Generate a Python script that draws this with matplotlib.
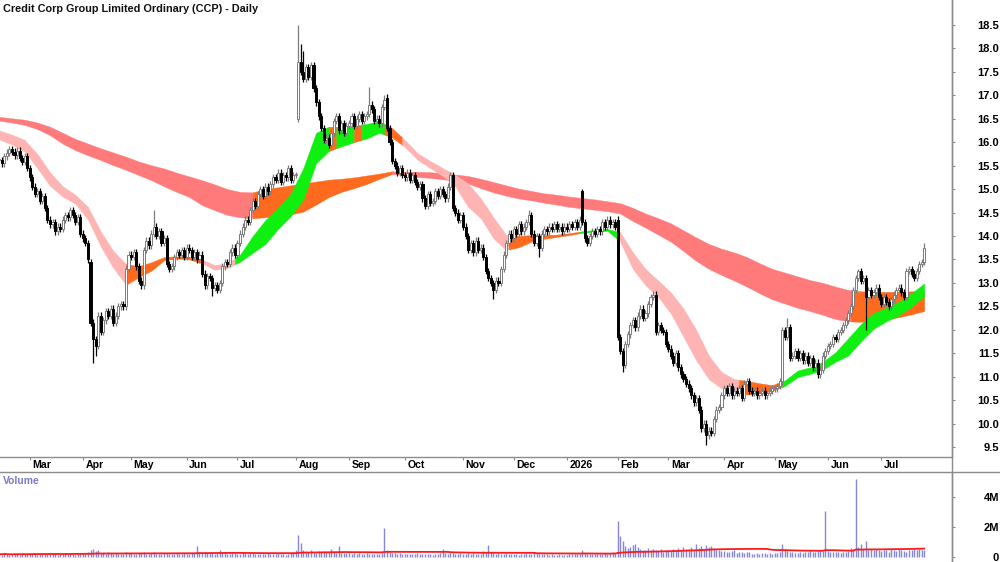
import numpy as np
import pandas as pd
import matplotlib
matplotlib.use("Agg")
import matplotlib.pyplot as plt
from matplotlib import transforms
from matplotlib.lines import Line2D

plt.rcParams['font.family'] = ['Liberation Sans', 'DejaVu Sans']

# ---------------- data ----------------
TITLE = "Credit Corp Group Limited Ordinary (CCP) - Daily"
START, END = "2025-02-13", "2026-07-24"
HOLIDAYS = ["2025-04-18", "2025-04-21", "2025-04-25", "2025-06-09", "2025-12-25",
            "2025-12-26", "2026-01-01", "2026-01-26", "2026-04-03", "2026-04-06",
            "2026-06-08"]

close_feb25 = [15.62, 15.55, 15.70, 15.78, 15.85, 15.80, 15.72, 15.82, 15.66, 15.58, 15.70, 15.45]
close_mar25 = [15.25, 15.05, 14.90, 14.95, 14.75, 14.85, 14.60, 14.35, 14.25, 14.30, 14.10, 14.20,
               14.15, 14.35, 14.45, 14.40, 14.55, 14.45, 14.30, 14.40, 14.05]
close_apr25 = [13.95, 13.85, 13.50, 12.15, 11.80, 11.65, 12.30, 11.95, 12.20, 12.40, 12.30, 12.45,
               12.15, 12.30, 12.50, 12.55, 12.50, 13.30, 13.60]
close_may25 = [13.55, 13.65, 13.35, 13.05, 12.95, 13.70, 13.90, 13.80, 14.05, 14.20, 14.00, 14.10,
               13.85, 13.95, 13.40, 13.30, 13.35, 13.55, 13.65, 13.60, 13.70, 13.55]
close_jun25 = [13.75, 13.70, 13.55, 13.65, 13.50, 13.60, 13.20, 12.95, 13.15, 13.10, 12.90, 12.95,
               12.85, 13.00, 13.35, 13.45, 13.40, 13.65, 13.75, 13.60]
close_jul25 = [13.85, 14.05, 14.20, 14.35, 14.30, 14.55, 14.75, 14.65, 14.90, 15.00, 14.85, 15.05,
               14.95, 15.10, 15.25, 15.20, 15.35, 15.15, 15.30, 15.25, 15.45, 15.20, 15.30]
close_aug25 = [15.30, 17.70, 17.50, 17.35, 17.60, 17.40, 17.65, 17.15, 16.85, 16.55, 16.30, 16.05,
               16.10, 15.95, 16.20, 16.45, 16.55, 16.25, 16.40, 16.20, 16.35]
close_sep25 = [16.40, 16.55, 16.35, 16.50, 16.60, 16.45, 16.55, 16.60, 16.80, 16.70, 16.45, 16.50,
               16.40, 16.75, 16.90, 16.30, 16.00, 15.60, 15.50, 15.35, 15.45, 15.30]
close_oct25 = [15.25, 15.35, 15.20, 15.30, 15.15, 15.05, 15.10, 14.80, 14.65, 14.90, 14.70, 14.75,
               14.95, 14.85, 15.00, 14.90, 14.80, 15.05, 15.30, 14.60, 14.50, 14.35, 14.45]
close_nov25 = [14.20, 14.00, 13.70, 13.85, 13.65, 13.90, 13.70, 13.75, 13.55, 13.25, 13.10, 13.00,
               12.85, 13.05, 13.00, 13.30, 13.60, 13.85, 14.05, 13.95]
close_dec25 = [14.15, 14.05, 14.25, 14.10, 14.20, 14.30, 14.45, 14.05, 13.85, 14.00, 13.75, 14.05,
               14.15, 14.10, 14.20, 14.15, 14.25, 14.15, 14.20, 14.10, 14.20]
close_jan26 = [14.15, 14.25, 14.20, 14.30, 14.20, 14.35, 14.30, 13.95, 13.85, 14.00, 14.10, 14.05,
               14.15, 14.10, 14.30, 14.20, 14.35, 14.25, 14.30, 14.20]
close_feb26 = [11.85, 11.55, 11.25, 11.70, 11.90, 12.10, 12.20, 12.05, 12.30, 12.45, 12.25, 12.35,
               12.55, 12.70, 12.75, 11.95, 12.10, 12.00, 11.95, 11.70]
close_mar26 = [11.60, 11.45, 11.30, 11.50, 11.20, 11.05, 10.95, 10.85, 10.75, 10.60, 10.45, 10.55,
               10.30, 9.90, 10.00, 9.75, 9.85, 9.80, 10.10, 10.30, 10.35, 10.60]
close_apr26 = [10.75, 10.65, 10.80, 10.60, 10.70, 10.65, 10.75, 10.55, 10.85, 10.90, 10.70, 10.65,
               10.70, 10.60, 10.65, 10.70, 10.60, 10.65, 10.70, 10.75]
close_may26 = [10.75, 10.80, 10.90, 12.00, 11.85, 12.05, 11.40, 11.45, 11.55, 11.40, 11.50, 11.35,
               11.45, 11.30, 11.40, 11.20, 11.30, 11.05, 11.15, 11.45, 11.55]
close_jun26 = [11.65, 11.70, 11.85, 11.80, 11.95, 12.00, 12.10, 12.20, 12.35, 12.50, 12.85, 13.10,
               13.25, 13.05, 13.10, 12.70, 12.85, 12.75, 12.80, 12.90, 12.70]
close_jul26 = [12.55, 12.70, 12.60, 12.50, 12.65, 12.75, 12.85, 12.90, 12.80, 12.70, 13.25, 13.30,
               13.20, 13.10, 13.25, 13.40, 13.45, 13.75]

# gap opens and notable wicks (trading-day index -> price)
open_gaps = {118: 16.50, 153: 16.95, 179: 15.30, 230: 14.95, 244: 14.35, 309: 10.90, 36: 13.45}
high_marks = {118: 18.50, 119: 18.10, 120: 17.95, 146: 17.18, 152: 17.00, 230: 15.00,
              61: 14.55, 311: 12.25, 339: 13.30, 365: 13.85, 209: 14.55}
low_marks = {37: 11.30, 38: 11.45, 246: 11.10, 279: 9.55, 342: 12.00, 195: 12.65,
             213: 13.55, 84: 12.72}

vol_feb25 = [0.22, 0.18, 0.25, 0.20, 0.15, 0.19, 0.24, 0.21, 0.17, 0.26, 0.20, 0.23]
vol_mar25 = [0.25, 0.22, 0.30, 0.18, 0.21, 0.27, 0.19, 0.24, 0.20, 0.23, 0.28, 0.17, 0.22, 0.25,
             0.19, 0.21, 0.26, 0.20, 0.18, 0.23, 0.30]
vol_apr25 = [0.28, 0.25, 0.35, 0.48, 0.52, 0.40, 0.45, 0.30, 0.28, 0.25, 0.32, 0.27, 0.22, 0.26,
             0.24, 0.20, 0.25, 0.38, 0.30]
vol_may25 = [0.27, 0.22, 0.25, 0.30, 0.28, 0.33, 0.24, 0.21, 0.26, 0.35, 0.22, 0.20, 0.24, 0.27,
             0.31, 0.23, 0.19, 0.22, 0.26, 0.21, 0.25, 0.28]
vol_jun25 = [0.24, 0.22, 0.27, 0.30, 0.72, 0.33, 0.28, 0.35, 0.30, 0.26, 0.29, 0.24, 0.30, 0.50,
             0.27, 0.33, 0.25, 0.22, 0.28, 0.26]
vol_jul25 = [0.25, 0.22, 0.38, 0.28, 0.24, 0.26, 0.30, 0.22, 0.20, 0.25, 0.23, 0.21, 0.27, 0.24,
             0.19, 0.22, 0.26, 0.20, 0.23, 0.18, 0.24, 0.30, 0.35]
vol_aug25 = [0.45, 1.45, 0.95, 0.50, 0.42, 0.38, 0.45, 0.36, 0.30, 0.42, 0.35, 0.40, 0.38, 0.36,
             0.55, 0.35, 0.30, 0.72, 0.28, 0.30, 0.26]
vol_sep25 = [0.30, 0.25, 0.28, 0.22, 0.26, 0.24, 0.21, 0.27, 0.23, 0.25, 0.20, 0.24, 0.22, 0.26,
             1.95, 0.45, 0.35, 0.30, 0.28, 0.25, 0.27, 0.24]
vol_oct25 = [0.22, 0.25, 0.20, 0.23, 0.19, 0.26, 0.21, 0.24, 0.22, 0.20, 0.25, 0.18, 0.23, 0.21,
             0.26, 0.58, 0.30, 0.22, 0.28, 0.30, 0.25, 0.23, 0.27]
vol_nov25 = [0.25, 0.22, 0.28, 0.24, 0.26, 0.21, 0.23, 0.25, 0.40, 0.30, 0.82, 0.35, 0.28, 0.24,
             0.26, 0.22, 0.25, 0.28, 0.24, 0.21]
vol_dec25 = [0.20, 0.23, 0.18, 0.25, 0.22, 0.28, 0.24, 0.20, 0.35, 0.26, 0.22, 0.19, 0.24, 0.21,
             0.18, 0.20, 0.17, 0.15, 0.19, 0.12, 0.16]
vol_jan26 = [0.18, 0.20, 0.22, 0.19, 0.24, 0.21, 0.45, 0.28, 0.23, 0.20, 0.25, 0.22, 0.19, 0.24,
             0.21, 0.26, 0.23, 0.28, 0.32, 0.30]
vol_feb26 = [2.40, 1.40, 1.10, 0.75, 0.60, 0.65, 0.80, 0.85, 0.70, 0.55, 0.45, 0.50, 0.62, 0.48,
             0.55, 0.45, 0.40, 0.52, 0.38, 0.45]
vol_mar26 = [0.50, 0.42, 0.55, 0.48, 0.60, 0.45, 0.70, 0.52, 0.58, 0.65, 0.50, 0.88, 0.62, 0.75,
             0.55, 0.80, 0.68, 0.72, 0.60, 0.50, 0.45, 0.40]
vol_apr26 = [0.42, 0.38, 0.35, 0.40, 0.45, 0.30, 0.36, 0.33, 0.28, 0.32, 0.38, 0.25, 0.22, 0.28,
             0.24, 0.26, 0.30, 0.23, 0.27, 0.25]
vol_may26 = [0.28, 0.30, 0.35, 0.85, 0.45, 0.40, 0.32, 0.35, 0.30, 0.28, 0.33, 0.30, 0.36, 0.32,
             0.45, 0.38, 0.34, 0.40, 0.50, 0.42, 3.05]
vol_jun26 = [0.40, 0.35, 0.38, 0.32, 0.36, 0.30, 0.34, 0.38, 0.42, 0.60, 0.55, 5.20, 0.70, 0.90,
             0.55, 1.05, 0.50, 0.55, 0.48, 0.52, 0.45]
vol_jul26 = [0.42, 0.50, 0.45, 0.38, 0.55, 0.48, 0.40, 0.52, 0.45, 0.42, 0.38, 0.50, 0.45, 0.55,
             0.48, 0.52, 0.45, 0.50]
VOL_MA = 60

# moving-average ribbons, read every 5 trading days (index 0, 5, ..., 365)
long_top = [16.54, 16.51, 16.48, 16.42, 16.33, 16.20, 16.07, 15.97, 15.87, 15.78, 15.69, 15.59,
            15.51, 15.44, 15.35, 15.27, 15.19, 15.10, 15.00, 14.94, 14.93, 15.00, 15.04, 15.08,
            15.12, 15.16, 15.20, 15.22, 15.25, 15.29, 15.33, 15.38, 15.37, 15.37, 15.36, 15.34,
            15.31, 15.28, 15.22, 15.15, 15.08, 15.01, 14.96, 14.91, 14.88, 14.84, 14.81, 14.78,
            14.74, 14.70, 14.60, 14.48, 14.38, 14.27, 14.12, 13.97, 13.83, 13.73, 13.65, 13.55,
            13.42, 13.30, 13.22, 13.14, 13.06, 13.00, 12.92, 12.85, 12.82, 12.81, 12.81, 12.81,
            12.82, 12.82]
long_bot = [16.46, 16.42, 16.37, 16.28, 16.15, 15.97, 15.83, 15.72, 15.62, 15.51, 15.41, 15.30,
            15.19, 15.06, 14.94, 14.83, 14.66, 14.55, 14.45, 14.40, 14.38, 14.40, 14.43, 14.46,
            14.52, 14.67, 14.83, 14.94, 15.02, 15.11, 15.22, 15.32, 15.30, 15.26, 15.24, 15.21,
            15.17, 15.12, 15.02, 14.93, 14.86, 14.80, 14.76, 14.71, 14.67, 14.62, 14.59, 14.56,
            14.53, 14.48, 14.32, 14.18, 14.03, 13.88, 13.68, 13.47, 13.30, 13.17, 13.05, 12.92,
            12.78, 12.65, 12.56, 12.47, 12.40, 12.32, 12.23, 12.18, 12.17, 12.19, 12.22, 12.27,
            12.33, 12.40]
short_top = [16.25, 16.16, 16.05, 15.75, 15.36, 15.06, 14.88, 14.62, 14.10, 13.68, 13.40, 13.36,
             13.44, 13.55, 13.57, 13.56, 13.50, 13.38, 13.42, 13.60, 14.00, 14.34, 14.60, 14.90,
             15.45, 16.20, 16.33, 16.33, 16.35, 16.39, 16.45, 16.30, 16.05, 15.77, 15.60, 15.45,
             15.30, 15.12, 14.80, 14.40, 14.02, 14.00, 14.02, 14.02, 14.03, 14.06, 14.10, 14.13,
             14.15, 14.08, 13.65, 13.30, 13.05, 12.80, 12.45, 12.00, 11.45, 11.10, 10.95, 10.91,
             10.86, 10.82, 10.92, 11.13, 11.20, 11.32, 11.52, 11.82, 12.12, 12.36, 12.47, 12.60,
             12.78, 12.99]
short_bot = [16.06, 15.95, 15.80, 15.45, 15.07, 14.84, 14.69, 14.35, 13.78, 13.32, 12.96, 13.12,
             13.26, 13.48, 13.52, 13.50, 13.42, 13.28, 13.32, 13.45, 13.64, 13.83, 14.15, 14.42,
             14.78, 15.55, 15.81, 15.91, 16.00, 16.08, 16.20, 16.10, 15.90, 15.63, 15.45, 15.28,
             15.05, 14.62, 14.38, 13.95, 13.70, 13.76, 13.88, 13.94, 13.98, 14.02, 14.07, 14.09,
             14.11, 13.88, 13.30, 12.95, 12.70, 12.35, 11.85, 11.35, 10.95, 10.75, 10.69, 10.62,
             10.64, 10.70, 10.80, 10.99, 11.06, 11.15, 11.32, 11.45, 11.75, 12.02, 12.18, 12.31,
             12.49, 12.72]
# colour state of each ribbon between trading-day breaks
short_breaks = [0, 50, 80, 93, 130, 133, 140, 143, 152, 159, 201, 229, 244, 292, 309, 365]
short_states = "POPGOGOGOPOGPOG"
long_breaks = [0, 100, 155, 336, 365]
long_states = "RORO"

# ---------------- assemble ----------------
closes = np.array(close_feb25 + close_mar25 + close_apr25 + close_may25 + close_jun25 +
                  close_jul25 + close_aug25 + close_sep25 + close_oct25 + close_nov25 +
                  close_dec25 + close_jan26 + close_feb26 + close_mar26 + close_apr26 +
                  close_may26 + close_jun26 + close_jul26)
vols = np.array(vol_feb25 + vol_mar25 + vol_apr25 + vol_may25 + vol_jun25 + vol_jul25 +
                vol_aug25 + vol_sep25 + vol_oct25 + vol_nov25 + vol_dec25 + vol_jan26 +
                vol_feb26 + vol_mar26 + vol_apr26 + vol_may26 + vol_jun26 + vol_jul26)

dates = pd.bdate_range(START, END)
dates = dates[~dates.isin(pd.to_datetime(HOLIDAYS))]
n = min(len(dates), len(closes), len(vols))
dates, closes, vols = dates[:n], closes[:n], vols[:n]
x = np.arange(n)

opens = np.empty(n)
opens[0] = closes[0]
opens[1:] = closes[:-1]
for k, v in open_gaps.items():
    if k < n:
        opens[k] = v
WICK = 0.07
highs = np.maximum(opens, closes) + WICK
lows = np.minimum(opens, closes) - WICK
for k, v in high_marks.items():
    if k < n:
        highs[k] = v
for k, v in low_marks.items():
    if k < n:
        lows[k] = v

band_idx = np.arange(0, 5 * len(long_top), 5)

# ---------------- figure ----------------
W, H = 1000, 562
fig = plt.figure(figsize=(W / 100, H / 100), dpi=100)
P_BOT, D_BOT, AX_R = 456.7, 471.7, 952.0

ax = fig.add_axes([0, 1 - P_BOT / H, AX_R / W, P_BOT / H])
axv = fig.add_axes([0, 0, AX_R / W, (H - D_BOT) / H])

PX_DAY = 2.534
X0 = 0.7 / PX_DAY
XR = (AX_R + 0.7) / PX_DAY
for a in (ax, axv):
    a.set_xlim(X0, XR)
    for s in ("left", "top", "bottom"):
        a.spines[s].set_visible(False)
    a.spines["right"].set_color("#8c8c8c")
    a.spines["right"].set_linewidth(1.0)
    a.set_facecolor("white")

ax.set_ylim(9.294, 19.032)
axv.set_ylim(-0.31, 5.65)

COL = {"P": "#ffb4b4", "R": "#ff7b7b", "O": "#ff6a1e", "G": "#10f010"}


def fill_band(top, bot, breaks, states, z):
    top = np.asarray(top)
    bot = np.asarray(bot)
    for k, st in enumerate(states):
        a0, b0 = breaks[k], breaks[k + 1]
        inner = band_idx[(band_idx > a0) & (band_idx < b0)]
        xs = np.concatenate(([a0], inner, [b0]))
        t = np.interp(xs, band_idx, top)
        b = np.interp(xs, band_idx, bot)
        ax.fill_between(xs, b, t, facecolor=COL[st], edgecolor=COL[st], lw=0.3, zorder=z)


fill_band(long_top, long_bot, long_breaks, long_states, 1)
fill_band(short_top, short_bot, short_breaks, short_states, 2)

# candles
up = closes >= opens
body_lo = np.minimum(opens, closes)
body_h = np.maximum(np.abs(closes - opens), 0.025)
ax.vlines(x[up], lows[up], highs[up], color="#7c7c7c", lw=0.9, zorder=3)
ax.vlines(x[~up], lows[~up], highs[~up], color="black", lw=0.9, zorder=3)
ax.bar(x[up], body_h[up], bottom=body_lo[up], width=0.82, color="white",
       edgecolor="#7c7c7c", linewidth=0.7, zorder=4)
ax.bar(x[~up], body_h[~up], bottom=body_lo[~up], width=0.82, color="black",
       edgecolor="black", linewidth=0.7, zorder=4)

# price axis
ax.yaxis.tick_right()
yt = np.arange(9.5, 18.51, 0.5)
ax.set_yticks(yt)
ax.set_yticklabels([f"{v:.1f}" for v in yt], fontsize=8.0, fontweight="bold")
ax.tick_params(axis="y", which="both", length=2.5, color="#8c8c8c", pad=31.5)
for lbl in ax.get_yticklabels():
    lbl.set_horizontalalignment("right")

# month ticks
month_pos, month_lbl = [], []
for k in range(1, n):
    if dates[k].month != dates[k - 1].month:
        month_pos.append(k)
        month_lbl.append(str(dates[k].year) if dates[k].month == 1 else dates[k].strftime("%b"))
ax.set_xticks(month_pos)
ax.set_xticklabels([])
ax.tick_params(axis="x", which="both", length=2.2, color="#8c8c8c", direction="out")
blend = transforms.blended_transform_factory(ax.transData, fig.transFigure)
tr = transforms.offset_copy(blend, fig=fig, x=2.5, y=0, units="dots")
for p, l in zip(month_pos, month_lbl):
    ax.text(p, 1 - 465.0 / H, l, transform=tr, ha="left", va="center",
            fontsize=7.6, fontweight="bold", color="black", clip_on=False)

# volume
axv.vlines(x, 0, vols, color="#8787d8", lw=1.0, zorder=2)
vma = pd.Series(vols).rolling(VOL_MA, min_periods=1).mean().values
axv.plot(x, vma, color="#ff1a1a", lw=1.3, zorder=3)
axv.set_xticks([])
axv.yaxis.tick_right()
axv.set_yticks([0, 2, 4])
axv.set_yticklabels(["0", "2M", "4M"], fontsize=8.0, fontweight="bold")
axv.tick_params(axis="y", length=2.5, color="#8c8c8c", pad=31.5)
for lbl in axv.get_yticklabels():
    lbl.set_horizontalalignment("right")

# separator lines
fig.add_artist(Line2D([0, AX_R / W], [1 - P_BOT / H] * 2, transform=fig.transFigure,
                      color="#8c8c8c", lw=1.0))
fig.add_artist(Line2D([0, 1], [1 - D_BOT / H] * 2, transform=fig.transFigure,
                      color="#8c8c8c", lw=1.0))
fig.add_artist(Line2D([AX_R / W] * 2, [0, 1], transform=fig.transFigure,
                      color="#8c8c8c", lw=1.0))

fig.text(3 / W, 1 - 8.5 / H, TITLE, ha="left", va="center", fontsize=7.8,
         fontweight="bold", color="#111111")
fig.text(3 / W, 1 - 481 / H, "Volume", ha="left", va="center", fontsize=7.4,
         fontweight="bold", color="#7a7ac8")

fig.savefig("out.png", dpi=100, facecolor="white")
